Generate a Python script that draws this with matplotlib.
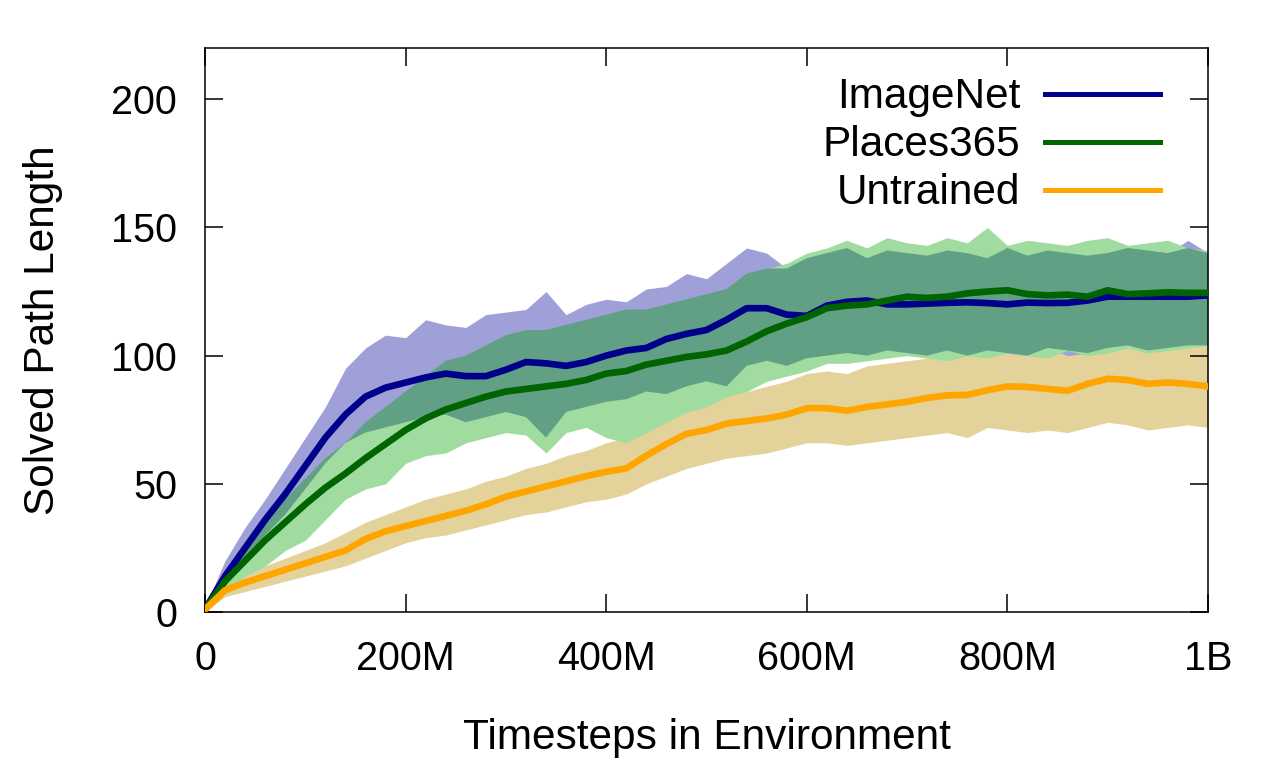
import numpy as np
import matplotlib
matplotlib.use("Agg")
import matplotlib.pyplot as plt

plt.rcParams["font.family"] = ["Liberation Sans", "DejaVu Sans"]

# timesteps in millions (sampled every 20M)
steps = list(range(0, 1001, 20))

imagenet_mean = [1, 14, 25, 36, 46, 57, 68, 77, 84, 87.5, 89.5, 91.5, 93, 92, 92, 94.5,
                 97.5, 97, 96, 97.5, 100, 102, 103, 106.5, 108.5, 110, 114, 118.5, 118.5,
                 116, 115.5, 119.5, 121, 121.5, 120, 120, 120.3, 120.6, 120.8, 120.5, 120,
                 120.7, 120.5, 120.6, 121.5, 123, 123, 123, 123, 123, 123.5]
imagenet_hi = [2, 20, 33, 44, 56, 68, 80, 95, 103, 108, 107, 114, 112, 111, 116, 117, 118,
               125, 116, 120, 122, 121, 126, 127, 132, 130, 136, 142, 140, 134, 138, 140,
               142, 138, 141, 140, 139, 141, 140, 138, 142, 139, 141, 140, 139, 140, 142,
               141, 140, 145, 140]
imagenet_lo = [0, 10, 20, 30, 38, 48, 58, 66, 70, 72, 74, 76, 77, 74, 76, 78, 76, 68, 78,
               80, 82, 83, 86, 85, 88, 90, 88, 96, 98, 96, 99, 100, 101, 100, 102, 101, 100,
               102, 100, 102, 101, 100, 103, 100, 101, 103, 104, 102, 103, 104, 104]

places_mean = [1, 12, 20, 28, 35, 42, 48.5, 54, 60, 65.5, 71, 75.5, 79, 81.5, 84, 86, 87,
               88, 89, 90.5, 93, 94, 96.5, 98, 99.5, 100.5, 102, 105.5, 109.5, 112.5, 115,
               118.5, 119.5, 120, 121.5, 123, 122.5, 123, 124.3, 125, 125.5, 124, 123.5,
               123.8, 123, 125.5, 124, 124.3, 124.7, 124.5, 124.5]
places_hi = [2, 16, 26, 36, 44, 52, 60, 66, 74, 80, 86, 92, 98, 100, 104, 108, 110, 110,
             112, 114, 116, 118, 118, 120, 122, 124, 126, 132, 134, 136, 140, 142, 145, 142,
             146, 144, 143, 146, 144, 150, 143, 145, 144, 143, 145, 146, 143, 144, 145, 142,
             141]
places_lo = [0, 8, 14, 18, 24, 28, 36, 44, 48, 50, 58, 61, 62, 66, 68, 70, 69, 62, 70, 72,
             68, 66, 70, 74, 78, 80, 84, 86, 90, 92, 94, 97, 97, 98, 99, 100, 99, 98, 100,
             99, 101, 100, 99, 102, 100, 101, 103, 101, 102, 103, 104]

untrained_mean = [1, 8.5, 11.5, 14, 16.5, 19, 21.5, 24, 28.5, 31.5, 33.5, 35.5, 37.5, 39.5,
                  42, 45, 47, 49, 51, 53, 54.7, 56, 61, 65.5, 69.5, 71, 73.5, 74.5, 75.5, 77,
                  79.5, 79.5, 78.5, 80, 81, 82, 83.5, 84.5, 84.7, 86.5, 88, 87.8, 87, 86.3,
                  89, 91, 90.5, 89, 89.5, 89, 88]
untrained_hi = [1, 10, 15, 18, 21, 24, 27, 31, 35, 38, 41, 44, 46, 48, 51, 53, 56, 58, 61,
                63, 66, 68, 73, 77, 80, 83, 85, 86, 88, 90, 93, 94, 93, 96, 97, 98, 99, 101,
                100, 103, 104, 103, 102, 101, 104, 107, 108, 103, 105, 106, 104]
untrained_lo = [0, 6, 8, 10, 12, 14, 16, 18, 21, 24, 27, 29, 30, 32, 34, 36, 38, 39, 41, 43,
                44, 46, 50, 53, 56, 58, 60, 61, 62, 64, 66, 66, 65, 66, 67, 68, 69, 70, 68,
                72, 71, 70, 71, 70, 72, 74, 73, 71, 72, 73, 72]

x_ticks = [0, 200, 400, 600, 800, 1000]
x_tick_labels = ["0", "200M", "400M", "600M", "800M", "1B"]
y_ticks = [0, 50, 100, 150, 200]

fig = plt.figure(figsize=(12.8, 7.68), dpi=100)
ax = fig.add_axes([205 / 1280, 1 - 612 / 768, 1003 / 1280, 564 / 768])

x = np.array(steps, dtype=float)
ib_lo, ib_hi = np.array(imagenet_lo), np.array(imagenet_hi)
pl_lo, pl_hi = np.array(places_lo), np.array(places_hi)

# shaded spread of each run
ax.fill_between(x, untrained_lo, untrained_hi, color="#e3d39a", lw=0, zorder=1)
ax.fill_between(x, ib_lo, ib_hi, color="#a0a0d8", lw=0, zorder=1.1)
ax.fill_between(x, pl_lo, pl_hi, color="#a0dca0", lw=0, zorder=1.2)
ov_lo = np.maximum(ib_lo, pl_lo)
ov_hi = np.minimum(ib_hi, pl_hi)
ax.fill_between(x, ov_lo, ov_hi, where=ov_hi > ov_lo, interpolate=True,
                color="#62a086", lw=0, zorder=1.3)

ax.plot(x, imagenet_mean, color="#00008b", lw=4.8, label="ImageNet", zorder=3)
ax.plot(x, places_mean, color="#006400", lw=4.8, label="Places365", zorder=3.1)
ax.plot(x, untrained_mean, color="#ffa500", lw=4.8, label="Untrained", zorder=3.2)

ax.set_xlim(0, 1000)
ax.set_ylim(0, 220)
ax.set_xticks(x_ticks)
ax.set_xticklabels(x_tick_labels)
ax.set_yticks(y_ticks)
ax.tick_params(direction="in", length=13, width=1.1, labelsize=28.5,
               top=True, right=True, pad=20)
for s in ax.spines.values():
    s.set_linewidth(1.1)

ax.set_xlabel("Timesteps in Environment", fontsize=30.5, labelpad=29)
ax.set_ylabel("Solved Path Length", fontsize=30.5, labelpad=35)

# labels left of the keys; with markerfirst=False matplotlib right-aligns the rows
leg = ax.legend(loc="upper right", bbox_to_anchor=(0.952, 0.948), frameon=False,
                markerfirst=False, fontsize=30.5, handlelength=2.71, handletextpad=0.59,
                labelspacing=0.19, borderpad=0, borderaxespad=0)
for h in leg.get_lines():
    h.set_linewidth(3.6)

fig.savefig("out.png", dpi=100)
